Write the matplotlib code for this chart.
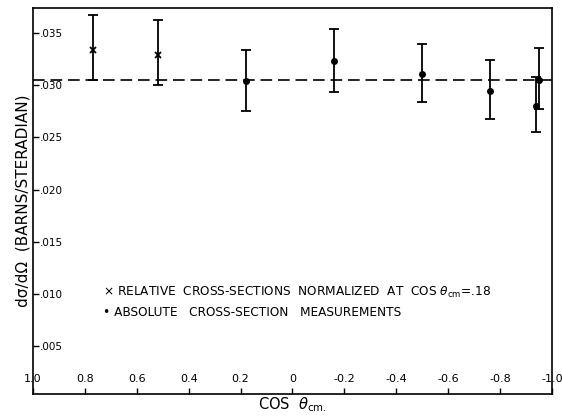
import matplotlib
matplotlib.use('Agg')
import matplotlib.pyplot as plt

# relative cross-sections (x markers)
cos_rel = [0.77, 0.52]
sig_rel = [0.0334, 0.0329]
sig_rel_hi = [0.0368, 0.0363]
sig_rel_lo = [0.0305, 0.0300]

# absolute cross-section measurements (dots)
cos_abs = [0.18, -0.16, -0.50, -0.76, -0.94, -0.95]
sig_abs = [0.0304, 0.0323, 0.0311, 0.0295, 0.0280, 0.0305]
sig_abs_hi = [0.0334, 0.0354, 0.0340, 0.0324, 0.0308, 0.0336]
sig_abs_lo = [0.0275, 0.0294, 0.0284, 0.0268, 0.0255, 0.0277]

mean_sig = 0.0305

xticks = [1.0, 0.8, 0.6, 0.4, 0.2, 0, -0.2, -0.4, -0.6, -0.8, -1.0]
xticklabels = ['1.0', '0.8', '0.6', '0.4', '0.2', '0', '-0.2', '-0.4', '-0.6', '-0.8', '-1.0']
yticks = [0.005, 0.010, 0.015, 0.020, 0.025, 0.030, 0.035]
yticklabels = ['.005', '.010', '.015', '.020', '.025', '.030', '.035']

plt.rcParams['font.family'] = ['DejaVu Sans']

fig = plt.figure(figsize=(5.62, 4.2), dpi=100)
ax = fig.add_axes([0.0587, 0.062, 0.9233, 0.918])

err_rel = [[s - l for s, l in zip(sig_rel, sig_rel_lo)],
           [h - s for s, h in zip(sig_rel, sig_rel_hi)]]
err_abs = [[s - l for s, l in zip(sig_abs, sig_abs_lo)],
           [h - s for s, h in zip(sig_abs, sig_abs_hi)]]

ax.errorbar(cos_rel, sig_rel, yerr=err_rel, fmt='x', color='black', ms=5, mew=1.3,
            elinewidth=1.3, capsize=3.5, capthick=1.3)
ax.errorbar(cos_abs, sig_abs, yerr=err_abs, fmt='o', color='black', ms=4,
            elinewidth=1.3, capsize=3.5, capthick=1.3)
ax.axhline(mean_sig, color='black', lw=1.2, dashes=(7, 3.5))

ax.set_xlim(1.0, -1.0)
ax.set_ylim(0.00036, 0.0374)

ax.set_xticks(xticks)
ax.set_xticklabels(xticklabels, fontsize=8)
ax.set_yticks(yticks)
ax.set_yticklabels(yticklabels, fontsize=7.5)
ax.tick_params(axis='x', direction='in', length=4, width=1, pad=-7)
ax.tick_params(axis='y', direction='in', length=4, width=1, pad=-5)
for lab in ax.get_xticklabels():
    lab.set_va('bottom')
for lab in ax.get_yticklabels():
    lab.set_ha('left')
for s in ax.spines.values():
    s.set_linewidth(1.2)

ax.set_xlabel('COS  $\\theta_{\\rm cm.}$', fontsize=10.5, labelpad=1)
ax.set_ylabel('d\u03c3/d\u03a9  (BARNS/STERADIAN)', fontsize=11, labelpad=2)

ax.text(0.135, 0.262, '\u00d7 RELATIVE  CROSS-SECTIONS  NORMALIZED  AT  COS $\\theta_{\\rm cm}$=.18',
        transform=ax.transAxes, fontsize=8.7, va='center')
ax.text(0.135, 0.212, '\u2022 ABSOLUTE   CROSS-SECTION   MEASUREMENTS',
        transform=ax.transAxes, fontsize=8.7, va='center')

fig.savefig('out.png', dpi=100)
